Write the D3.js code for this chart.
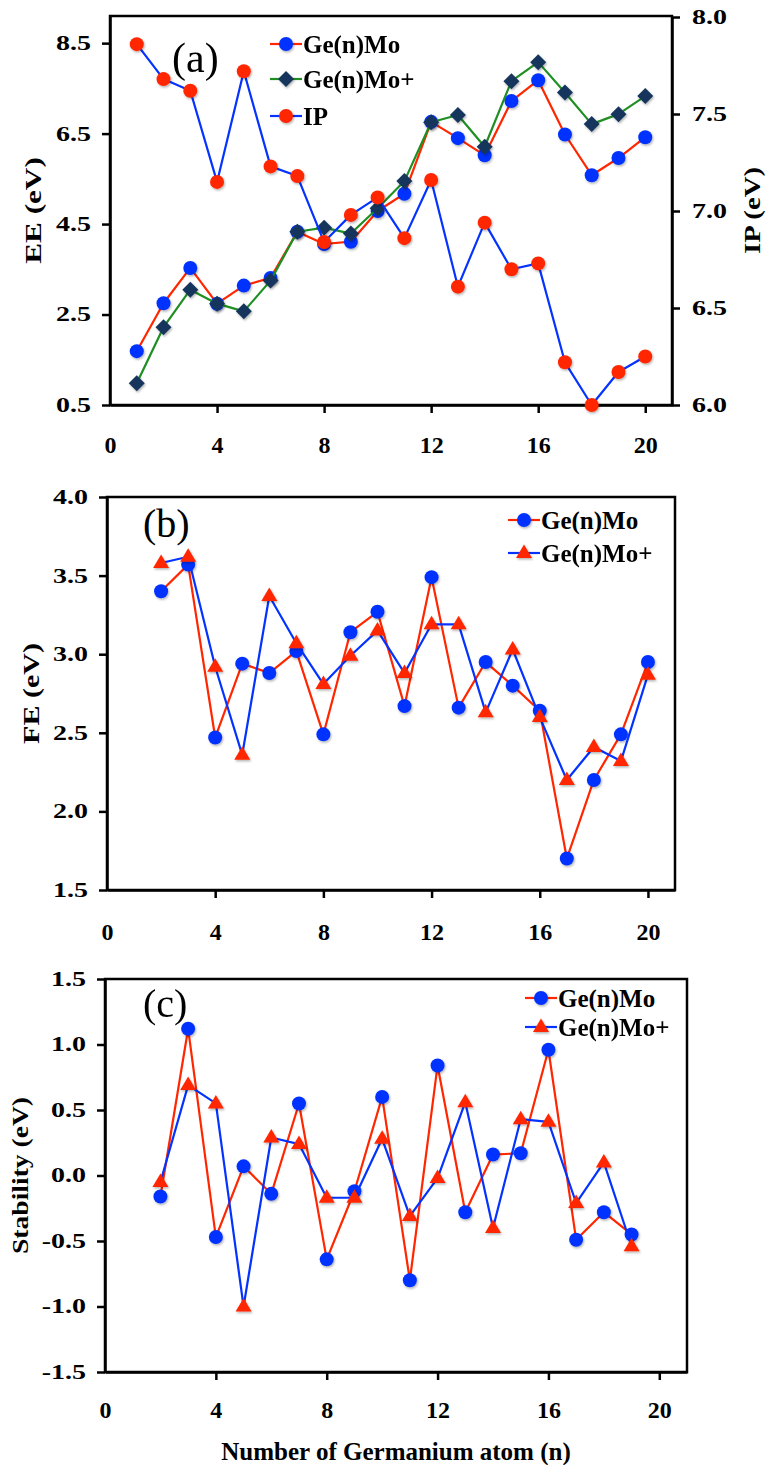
<!DOCTYPE html>
<html>
<head>
<meta charset="utf-8">
<script src="https://cdn.jsdelivr.net/npm/d3@7"></script>
<style>
  html, body { margin: 0; padding: 0; background: #fff; }
  svg { display: block; font-family: "Liberation Serif", "Times New Roman", serif; }
</style>
</head>
<body>
<svg id="chart" width="766" height="1465"></svg>
<script>
// panel (a): electron energy / ionisation potential
const atomsA = [1, 2, 3, 4, 5, 6, 7, 8, 9, 10, 11, 12, 13, 14, 15, 16, 17, 18, 19, 20];
const eeMo = [1.69, 2.75, 3.53, 2.74, 3.14, 3.31, 4.33, 4.06, 4.11, 4.79, 5.17, 6.76, 6.40, 6.02, 7.22, 7.68, 6.48, 5.58, 5.96, 6.42];
const eeMoPlus = [0.98, 2.22, 3.05, 2.74, 2.57, 3.25, 4.33, 4.42, 4.29, 4.85, 5.45, 6.75, 6.91, 6.21, 7.66, 8.08, 7.41, 6.71, 6.93, 7.33];
const ipMo = [7.86, 7.68, 7.62, 7.15, 7.72, 7.23, 7.18, 6.84, 6.98, 7.07, 6.86, 7.16, 6.61, 6.94, 6.70, 6.73, 6.22, 6.00, 6.17, 6.25];

// panel (b): fragmentation energy
const atomsB = [2, 3, 4, 5, 6, 7, 8, 9, 10, 11, 12, 13, 14, 15, 16, 17, 18, 19, 20];
const feMo = [3.40, 3.57, 2.47, 2.94, 2.88, 3.02, 2.49, 3.14, 3.27, 2.67, 3.49, 2.66, 2.95, 2.80, 2.64, 1.70, 2.20, 2.49, 2.95];
const feMoPlus = [3.58, 3.62, 2.92, 2.36, 3.37, 3.07, 2.81, 2.99, 3.15, 2.88, 3.19, 3.19, 2.63, 3.03, 2.60, 2.20, 2.41, 2.32, 2.87];

// panel (c): stability
const atomsC = [2, 3, 4, 5, 6, 7, 8, 9, 10, 11, 12, 13, 14, 15, 16, 17, 18, 19];
const stMo = [-0.16, 1.12, -0.47, 0.07, -0.14, 0.55, -0.64, -0.12, 0.60, -0.80, 0.84, -0.28, 0.16, 0.17, 0.96, -0.49, -0.28, -0.45];
const stMoPlus = [-0.05, 0.69, 0.55, -1.00, 0.29, 0.24, -0.17, -0.17, 0.28, -0.31, -0.02, 0.56, -0.40, 0.43, 0.41, -0.21, 0.10, -0.54];

const xTicks = [0, 4, 8, 12, 16, 20];
const eeTicks = [0.5, 2.5, 4.5, 6.5, 8.5];
const ipTicks = [6.0, 6.5, 7.0, 7.5, 8.0];
const feTicks = [1.5, 2.0, 2.5, 3.0, 3.5, 4.0];
const stTicks = [-1.5, -1.0, -0.5, 0.0, 0.5, 1.0, 1.5];

const legendA = ["Ge(n)Mo", "Ge(n)Mo+", "IP"];
const legendBC = ["Ge(n)Mo", "Ge(n)Mo+"];

const RED = "#ff2600";
const BLUE = "#0433ff";
const GREEN = "#1f8f23";
const NAVY = "#17365d";

const svg = d3.select("#chart");

const defs = svg.append("defs");
defs.append("filter")
  .attr("id", "shadow")
  .attr("x", "-50%").attr("y", "-50%").attr("width", "200%").attr("height", "200%")
  .append("feDropShadow")
  .attr("dx", 1).attr("dy", 1.5).attr("stdDeviation", 1)
  .attr("flood-color", "#000").attr("flood-opacity", 0.3);

const shapes = {
  circle: "M7,0A7,7 0 1,1 -7,0A7,7 0 1,1 7,0Z",
  diamond: "M0,-8L8,0L0,8L-8,0Z",
  triangle: "M0,-8.5L8,5L-8,5Z",
};

function styleAxis(ax) {
  ax.attr("font-family", null).attr("font-size", null);
  ax.select(".domain").attr("stroke", "#000").attr("stroke-width", 2.5);
  ax.selectAll(".tick line").attr("stroke", "#000").attr("stroke-width", 2.5);
  ax.selectAll(".tick text").attr("fill", "#000").attr("font-weight", "bold");
}

// the y tick labels in the figure are drawn wider than they are tall
function stretchText(ax, factor) {
  ax.selectAll(".tick text").each(function () {
    const t = d3.select(this);
    const x = +t.attr("x");
    t.attr("x", null).attr("transform", `translate(${x},0) scale(${factor},1)`);
  });
}

function panel(box, yDomain, yTicks, xPad) {
  const g = svg.append("g");
  const x = d3.scaleLinear().domain([0, 21]).range([box.left, box.right]);
  const y = d3.scaleLinear().domain(yDomain).range([box.bottom, box.top]);

  const xa = g.append("g")
    .attr("transform", `translate(0,${box.bottom})`)
    .call(d3.axisBottom(x).tickValues(xTicks).tickFormat(d3.format("d")).tickSize(8).tickSizeOuter(0).tickPadding(xPad));
  styleAxis(xa);
  xa.selectAll(".tick text").attr("font-size", 24);
  xa.selectAll(".tick").filter((d) => d === 0).select("line").remove();

  const ya = g.append("g")
    .attr("transform", `translate(${box.left},0)`)
    .call(d3.axisLeft(y).tickValues(yTicks).tickFormat((d) => d.toFixed(1)).tickSize(8).tickSizeOuter(0).tickPadding(11));
  styleAxis(ya);
  ya.selectAll(".tick text").attr("font-size", 20);
  stretchText(ya, 1.4);

  g.append("rect")
    .attr("x", box.left).attr("y", box.top)
    .attr("width", box.right - box.left).attr("height", box.bottom - box.top)
    .attr("fill", "none").attr("stroke", "#000").attr("stroke-width", 2.5);

  return { g, x, y };
}

function series(g, x, y, xs, ys, lineColor, markColor, shape) {
  const pts = xs.map((n, i) => [n, ys[i]]);
  g.append("path")
    .datum(pts)
    .attr("fill", "none")
    .attr("stroke", lineColor)
    .attr("stroke-width", 2.2)
    .attr("stroke-linejoin", "round")
    .attr("d", d3.line().x((d) => x(d[0])).y((d) => y(d[1])));
  g.append("g")
    .attr("filter", "url(#shadow)")
    .selectAll("path")
    .data(pts)
    .join("path")
    .attr("d", shapes[shape])
    .attr("fill", markColor)
    .attr("transform", (d) => `translate(${x(d[0])},${y(d[1])})`);
}

function legend(g, items, x0, rows) {
  items.forEach((item, i) => {
    const row = g.append("g").attr("transform", `translate(${x0},${rows[i]})`);
    row.append("line")
      .attr("x1", 0).attr("x2", 32).attr("y1", 0).attr("y2", 0)
      .attr("stroke", item.line).attr("stroke-width", 2.2);
    row.append("path")
      .attr("d", shapes[item.shape])
      .attr("fill", item.mark)
      .attr("transform", "translate(16,0)")
      .attr("filter", "url(#shadow)");
    row.append("text")
      .attr("x", 33).attr("dy", "0.35em")
      .attr("font-size", 25).attr("font-weight", "bold")
      .text(item.name);
  });
}

function yTitle(text, cx, cy, size, stretch) {
  svg.append("text")
    .attr("transform", `translate(${cx},${cy}) rotate(-90) scale(${stretch},1)`)
    .attr("text-anchor", "middle")
    .attr("dy", "0.35em")
    .attr("font-size", size)
    .attr("font-weight", "bold")
    .text(text);
}

function tag(text, x, y, size) {
  svg.append("text").attr("x", x).attr("y", y).attr("font-size", size).text(text);
}

// ---- (a)
const boxA = { left: 110, right: 672, top: 16, bottom: 405 };
const a = panel(boxA, [0.5, 9.1], eeTicks, 23);
const ip = d3.scaleLinear().domain([6.0, 8.0]).range([boxA.bottom, boxA.top + 1]);
const ipAxis = a.g.append("g")
  .attr("transform", `translate(${boxA.right},0)`)
  .call(d3.axisRight(ip).tickValues(ipTicks).tickFormat((d) => d.toFixed(1)).tickSize(8).tickSizeOuter(0).tickPadding(12));
styleAxis(ipAxis);
ipAxis.selectAll(".tick text").attr("font-size", 20);
stretchText(ipAxis, 1.4);

series(a.g, a.x, a.y, atomsA, eeMo, RED, BLUE, "circle");
series(a.g, a.x, a.y, atomsA, eeMoPlus, GREEN, NAVY, "diamond");
series(a.g, a.x, ip, atomsA, ipMo, BLUE, RED, "circle");
legend(a.g, [
  { name: legendA[0], line: RED, mark: BLUE, shape: "circle" },
  { name: legendA[1], line: GREEN, mark: NAVY, shape: "diamond" },
  { name: legendA[2], line: BLUE, mark: RED, shape: "circle" },
], 270, [44, 79, 116]);
tag("(a)", 172, 72, 42);
yTitle("EE (eV)", 33, (boxA.top + boxA.bottom) / 2, 24, 1.3);
yTitle("IP (eV)", 752, (boxA.top + boxA.bottom) / 2, 24, 1.2);

// ---- (b)
const boxB = { left: 107, right: 675, top: 497, bottom: 890 };
const b = panel(boxB, [1.5, 4.0], feTicks, 25);
series(b.g, b.x, b.y, atomsB, feMo, RED, BLUE, "circle");
series(b.g, b.x, b.y, atomsB, feMoPlus, BLUE, RED, "triangle");
legend(b.g, [
  { name: legendBC[0], line: RED, mark: BLUE, shape: "circle" },
  { name: legendBC[1], line: BLUE, mark: RED, shape: "triangle" },
], 508, [520, 553]);
tag("(b)", 143, 537, 40);
yTitle("FE (eV)", 31, (boxB.top + boxB.bottom) / 2, 24, 1.25);

// ---- (c)
const boxC = { left: 105, right: 687, top: 979, bottom: 1372 };
const c = panel(boxC, [-1.5, 1.5], stTicks, 21);
series(c.g, c.x, c.y, atomsC, stMo, RED, BLUE, "circle");
series(c.g, c.x, c.y, atomsC, stMoPlus, BLUE, RED, "triangle");
legend(c.g, [
  { name: legendBC[0], line: RED, mark: BLUE, shape: "circle" },
  { name: legendBC[1], line: BLUE, mark: RED, shape: "triangle" },
], 525, [998, 1027]);
tag("(c)", 143, 1017, 40);
yTitle("Stability (eV)", 20, (boxC.top + boxC.bottom) / 2, 23, 1.2);

svg.append("text")
  .attr("x", 396).attr("y", 1460)
  .attr("text-anchor", "middle")
  .attr("font-size", 25).attr("font-weight", "bold")
  .text("Number of Germanium atom (n)");
</script>
</body>
</html>
